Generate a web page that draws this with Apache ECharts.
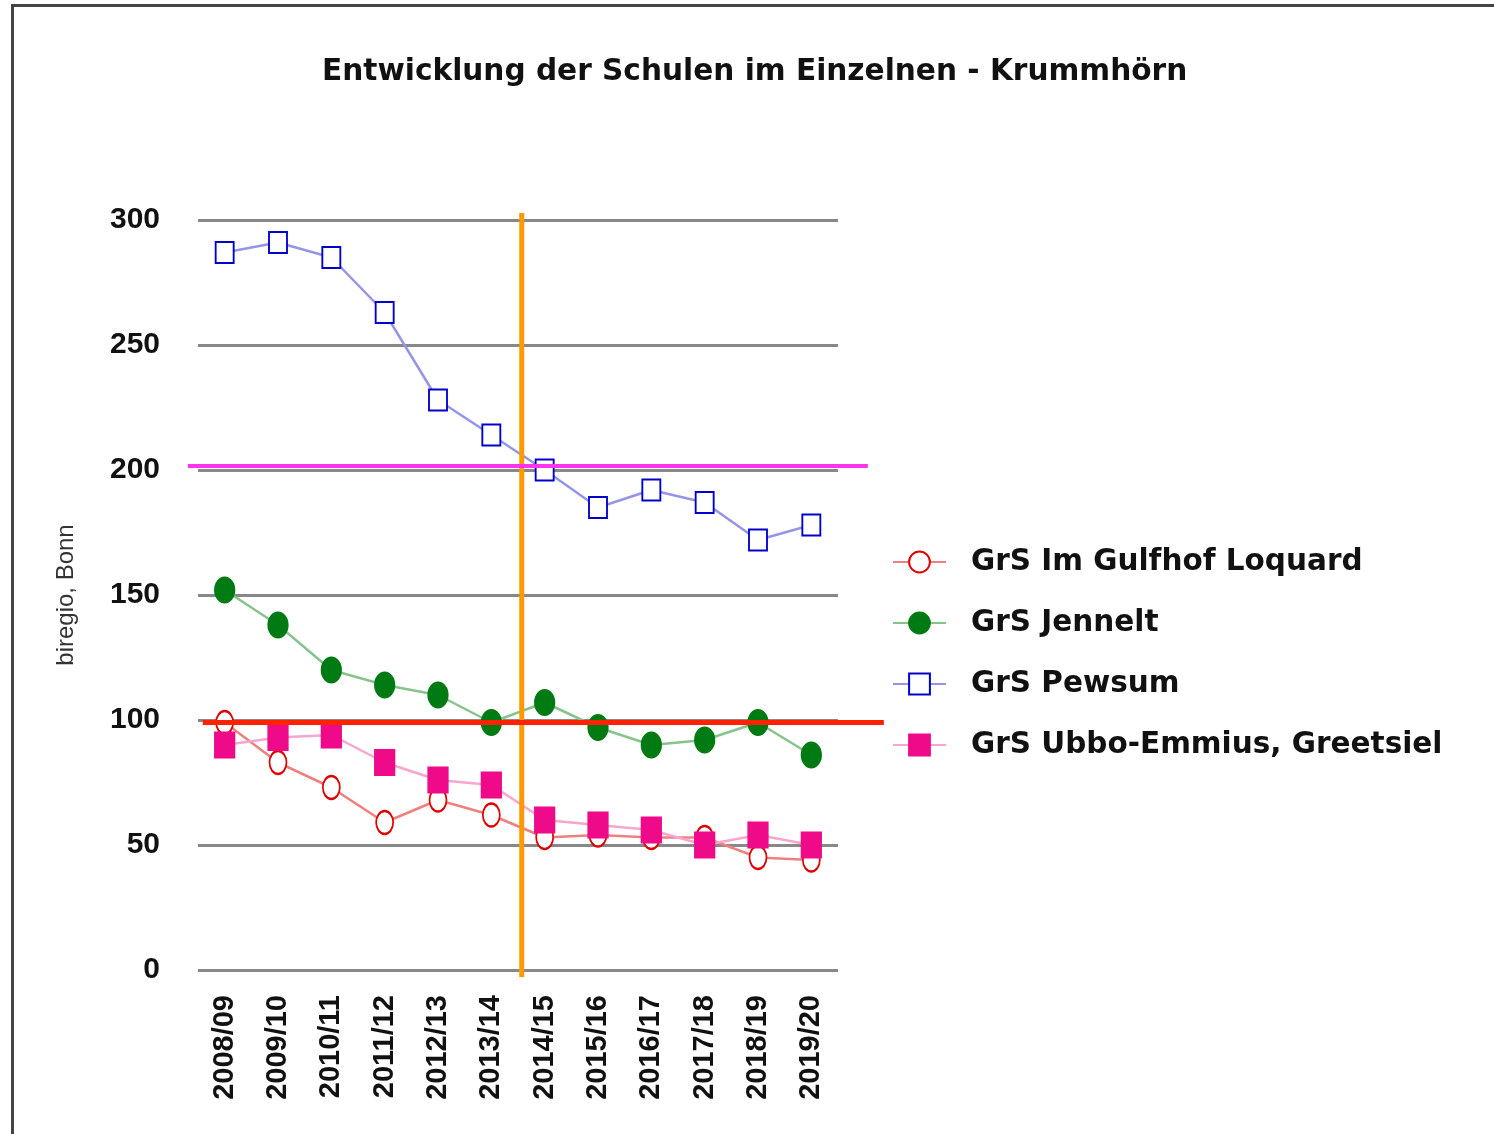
<!DOCTYPE html>
<html>
<head>
<meta charset="utf-8">
<script src="https://cdn.jsdelivr.net/npm/echarts@6/dist/echarts.min.js"></script>
<style>
  html, body { margin: 0; padding: 0; background: #fff; }
  #main { width: 1494px; height: 1134px; }
</style>
</head>
<body>
<div id="main"></div>
<script>
// Schuljahre
var years = ['2008/09', '2009/10', '2010/11', '2011/12', '2012/13', '2013/14',
             '2014/15', '2015/16', '2016/17', '2017/18', '2018/19', '2019/20'];

// Schülerzahlen je Schule
var loquard = [99, 83, 73, 59, 68, 62, 53, 54, 53, 53, 45, 44];
var jennelt = [152, 138, 120, 114, 110, 99, 107, 97, 90, 92, 99, 86];
var pewsum  = [287, 291, 285, 263, 228, 214, 200, 185, 192, 187, 172, 178];
var ubbo    = [90, 93, 94, 83, 76, 74, 60, 58, 56, 50, 54, 50];

var yTicks = [0, 50, 100, 150, 200, 250, 300];

// eingezeichnete Hilfslinien (x in Kategorie-Index, y in Schülern)
var orangeLine  = [[5.57, -2.8], [5.57, 302.8]];
var magentaLine = [[-0.69, 201.6], [12.06, 201.6]];
var redLine     = [[-0.41, 99.0], [12.36, 99.0]];

var myChart = echarts.init(document.getElementById('main'));

function schule(name, data, symbol, size, color, lineColor) {
    return {
        name: name,
        type: 'line',
        data: data,
        symbol: symbol,
        symbolSize: size,
        lineStyle: { color: lineColor, width: 2.5 },
        itemStyle: { color: color, borderColor: color, borderWidth: 2.5 },
        z: 3
    };
}

// Hilfslinien liegen in einem etwas breiteren, unsichtbaren Raster
function hilfslinie(data, color, width) {
    return {
        type: 'line',
        xAxisIndex: 1,
        yAxisIndex: 1,
        data: data,
        symbol: 'none',
        silent: true,
        lineStyle: { color: color, width: width },
        z: 5
    };
}

var catWidth = 640 / years.length;

option = {
    animation: false,
    title: {
        text: 'Entwicklung der Schulen im Einzelnen - Krummhörn',
        left: 317,
        top: 52,
        textStyle: { fontFamily: 'DejaVu Sans', fontSize: 29.6, fontWeight: 'bold', color: '#111' }
    },
    graphic: [{
        type: 'polyline',
        shape: { points: [[12.5, 1134], [12.5, 5.5], [1494, 5.5]] },
        style: { stroke: '#444', lineWidth: 3, fill: null }
    }],
    legend: {
        orient: 'vertical',
        left: 887,
        top: 542,
        itemWidth: 53,
        itemHeight: 26,
        itemGap: 31,
        data: ['GrS Im Gulfhof Loquard', 'GrS Jennelt', 'GrS Pewsum', 'GrS Ubbo-Emmius, Greetsiel'],
        textStyle: { fontFamily: 'DejaVu Sans', fontSize: 29.5, fontWeight: 'bold', color: '#111',
                     lineHeight: 26, padding: [0, 0, 0, 20] }
    },
    grid: [
        { left: 198, top: 220, width: 640, height: 750 },
        { left: 186, top: 212, width: 700, height: 766 }
    ],
    xAxis: [{
        type: 'category',
        gridIndex: 0,
        data: years,
        axisLine: { show: false },
        axisTick: { show: false },
        axisLabel: { rotate: 90, margin: 25, fontFamily: 'Liberation Sans', fontSize: 29,
                     fontWeight: 'bold', color: '#111' }
    }, {
        type: 'value',
        gridIndex: 1,
        min: -0.5 - 12 / catWidth,
        max: -0.5 + 688 / catWidth,
        show: false
    }],
    yAxis: [{
        type: 'value',
        gridIndex: 0,
        min: 0,
        max: 300,
        interval: 50,
        name: 'biregio, Bonn',
        nameLocation: 'middle',
        nameRotate: 90,
        nameGap: 120,
        nameTextStyle: { fontFamily: 'Liberation Sans', fontSize: 24, color: '#333' },
        axisLine: { show: false },
        axisTick: { show: false },
        axisLabel: { margin: 38, fontFamily: 'Liberation Sans', fontSize: 30, fontWeight: 'bold', color: '#111' },
        splitLine: { lineStyle: { color: '#888', width: 3 } }
    }, {
        type: 'value',
        gridIndex: 1,
        min: -8 / 2.5,
        max: 300 + 8 / 2.5,
        show: false
    }],
    series: [
        schule('GrS Im Gulfhof Loquard', loquard, 'emptyCircle', [17, 23], '#e00000', '#ee8080'),
        schule('GrS Jennelt', jennelt, 'circle', [19, 24], '#007a12', '#86c48c'),
        schule('GrS Pewsum', pewsum, 'emptyRect', [18, 21], '#0000cc', '#9595e8'),
        schule('GrS Ubbo-Emmius, Greetsiel', ubbo, 'rect', [19, 24], '#ee0a88', '#f7a6cf'),
        hilfslinie(orangeLine, '#ff9900', 5),
        hilfslinie(magentaLine, '#ff33ee', 4),
        hilfslinie(redLine, '#ff2200', 5)
    ]
};

myChart.setOption(option);
</script>
</body>
</html>
